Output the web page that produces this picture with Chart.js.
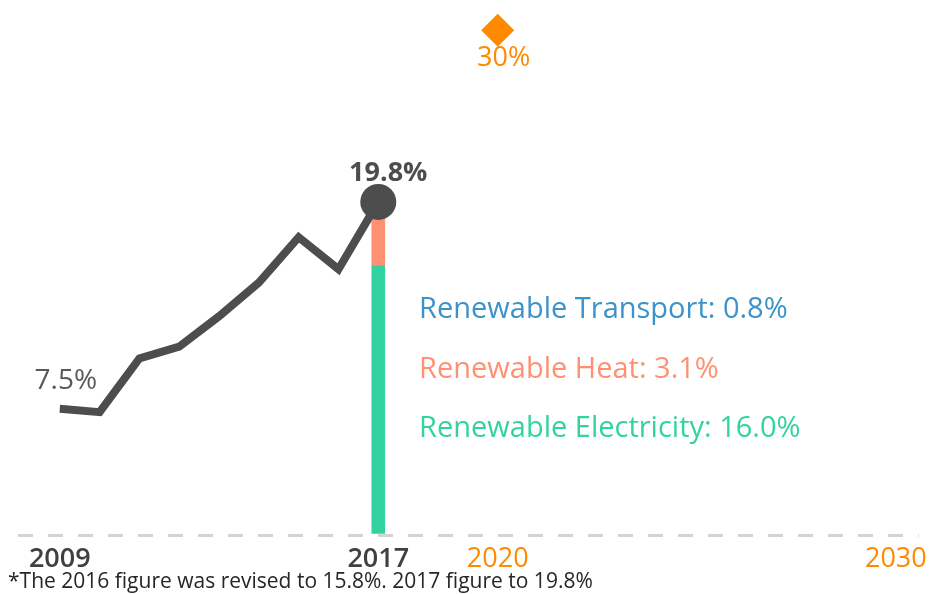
<!DOCTYPE html>
<html>
<head>
<meta charset="utf-8">
<script src="https://cdn.jsdelivr.net/npm/chart.js@4"></script>
<style>
  html, body { margin: 0; padding: 0; background: #fff; }
  #wrap { width: 935px; height: 594px; }
</style>
</head>
<body>
<div id="wrap"><canvas id="chartRenewables"></canvas></div>
<script>
// renewable share of energy consumption
const years = [2009, 2010, 2011, 2012, 2013, 2014, 2015, 2016, 2017];
const renewableShare = [7.5, 7.3, 10.5, 11.2, 13.0, 15.0, 17.7, 15.8, 19.8];

// 2017 breakdown, bottom to top
const breakdownLabels = ['Renewable Electricity', 'Renewable Heat', 'Renewable Transport'];
const breakdownValues = [16.0, 3.1, 0.8];
const breakdownColors = ['#33d3a0', '#ff9172', '#3b93c9'];

const targetYear = 2020;
const targetValue = 30;

const tickYears = [2009, 2017, 2020, 2030];
const footnote = '*The 2016 figure was revised to 15.8%. 2017 figure to 19.8%';

const FONT = '"Open Sans", Lato, sans-serif';
const DARK = '#4d4d4d';
const ORANGE = '#ff8a00';

const lastIdx = years.length - 1;
const isPast = c => !c.tick || c.tick.value <= years[lastIdx];

const labelsPlugin = {
  id: 'labels',
  afterDatasetsDraw(chart) {
    const ctx = chart.ctx;
    const x = chart.scales.x, y = chart.scales.y;
    const area = chart.chartArea;
    ctx.save();
    ctx.textBaseline = 'alphabetic';

    // first value
    ctx.textAlign = 'center';
    ctx.fillStyle = '#595959';
    ctx.font = '28px ' + FONT;
    ctx.fillText(renewableShare[0].toFixed(1) + '%',
      x.getPixelForValue(years[0]) + 6, y.getPixelForValue(renewableShare[0]) - 20);

    // last value
    ctx.fillStyle = DARK;
    ctx.font = 'bold 27px ' + FONT;
    ctx.fillText(renewableShare[lastIdx].toFixed(1) + '%',
      x.getPixelForValue(years[lastIdx]) + 10, y.getPixelForValue(renewableShare[lastIdx]) - 21);

    // target
    ctx.fillStyle = ORANGE;
    ctx.font = '27px ' + FONT;
    ctx.fillText(targetValue + '%',
      x.getPixelForValue(targetYear) + 6, y.getPixelForValue(targetValue) + 36);

    // breakdown text, top to bottom
    ctx.textAlign = 'left';
    ctx.font = '29px ' + FONT;
    const left = x.getPixelForValue(years[lastIdx] + 1) + 1;
    for (let i = breakdownLabels.length - 1, row = 0; i >= 0; i--, row++) {
      ctx.fillStyle = breakdownColors[i];
      ctx.fillText(breakdownLabels[i] + ': ' + breakdownValues[i].toFixed(1) + '%',
        left, area.top + 318 + row * 59.5);
    }

    // footnote
    ctx.fillStyle = '#262626';
    ctx.font = '21px ' + FONT;
    ctx.fillText(footnote, 8, 588);
    ctx.restore();
  }
};

const ctx = document.getElementById('chartRenewables').getContext('2d');

const barSets = breakdownLabels.map((label, i) => ({
  type: 'bar',
  label: label,
  data: [{ x: years[lastIdx], y: breakdownValues[i] }],
  backgroundColor: breakdownColors[i],
  barThickness: 13,
  stack: 'breakdown',
  order: 1
}));

new Chart(ctx, {
  data: {
    datasets: [
      {
        type: 'line',
        label: 'Renewable share',
        data: years.map((yr, i) => ({ x: yr, y: renewableShare[i] })),
        borderColor: DARK,
        borderWidth: 8,
        borderJoinStyle: 'miter',
        tension: 0,
        pointRadius: c => c.dataIndex === lastIdx ? 18 : 0,
        pointBackgroundColor: DARK,
        pointBorderWidth: 0,
        stack: 'share',
        clip: false,
        order: 0
      },
      {
        type: 'line',
        label: 'Target',
        data: [{ x: targetYear, y: targetValue }],
        showLine: false,
        pointStyle: 'rectRot',
        pointRadius: 16.5,
        pointBackgroundColor: ORANGE,
        pointBorderWidth: 0,
        stack: 'target',
        clip: false,
        order: 0
      },
      ...barSets
    ]
  },
  options: {
    responsive: true,
    maintainAspectRatio: false,
    animation: false,
    layout: { autoPadding: false, padding: { left: 15, right: 12, top: 0, bottom: 0 } },
    plugins: {
      legend: { display: false },
      tooltip: { enabled: false }
    },
    scales: {
      x: {
        type: 'linear',
        offset: false,
        min: 2007.875,
        max: 2030.575,
        grid: { display: false, drawTicks: false, offset: false },
        border: { display: false },
        afterBuildTicks: scale => { scale.ticks = tickYears.map(v => ({ value: v })); },
        afterFit: scale => { scale.height = 59; },
        ticks: {
          autoSkip: false,
          maxRotation: 0,
          padding: 8,
          callback: v => String(v),
          color: c => isPast(c) ? '#404040' : ORANGE,
          font: c => ({ family: FONT, size: 27, weight: isPast(c) ? '600' : 'normal' })
        }
      },
      y: {
        min: 0,
        max: 31.8,
        stacked: true,
        ticks: { display: false, stepSize: 10 },
        grid: {
          drawTicks: false,
          lineWidth: 3,
          color: c => c.tick && c.tick.value === 0 ? '#d4d4d4' : 'rgba(0,0,0,0)'
        },
        border: { display: false, dash: [15, 15], dashOffset: -3 }
      }
    }
  },
  plugins: [labelsPlugin]
});
</script>
</body>
</html>
